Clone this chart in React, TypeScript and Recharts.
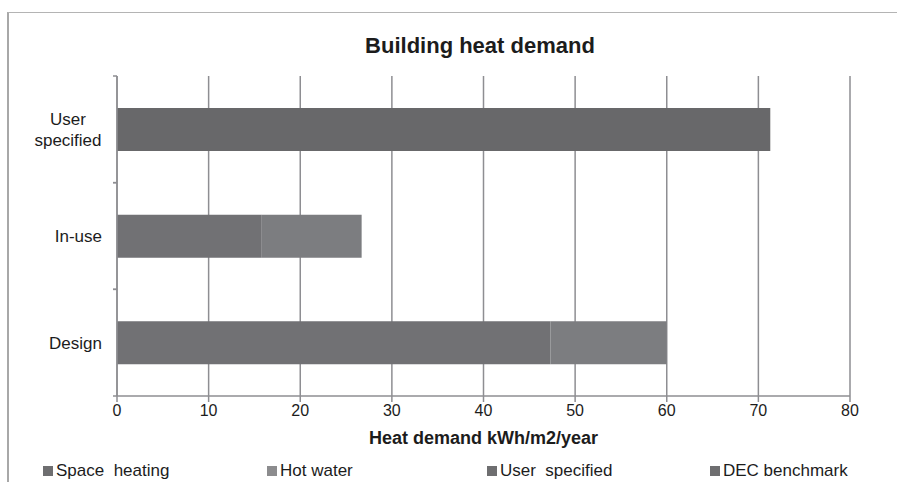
import React from 'react';
import { BarChart, Bar, XAxis, YAxis, CartesianGrid, Legend } from 'recharts';

const categories = ['User specified', 'In-use', 'Design'];
const spaceHeating = [null, 15.8, 47.3];
const hotWater = [null, 10.9, 12.7];
const userSpecified = [71.3, null, null];
const decBenchmark = [null, null, null];
const xTicks = [0, 10, 20, 30, 40, 50, 60, 70, 80];

const data = categories.map((c, i) => ({
  name: c,
  space: spaceHeating[i],
  hot: hotWater[i],
  user: userSpecified[i],
  dec: decBenchmark[i],
}));

const FONT = '"Liberation Sans", Arial, sans-serif';
const GRID = '#8e8e92';
const TEXT = '#1c1c1c';

const legendItems = [
  { label: 'Space  heating', color: '#6e6e70', x: 43 },
  { label: 'Hot water', color: '#8c8c8e', x: 267 },
  { label: 'User  specified', color: '#6e6e70', x: 487 },
  { label: 'DEC benchmark', color: '#6e6e70', x: 710 },
];

const BAND_HALF = 320 / 3 / 2;

const YTick = (props: any) => {
  const { x, y, payload } = props;
  const half = payload && payload.offset ? payload.offset : BAND_HALF;
  const axisX = x + 15;
  const words = String(payload.value).split(' ');
  const multi = payload.value === 'User specified';
  return (
    <g>
      <line x1={axisX - 4} x2={axisX} y1={y - half} y2={y - half} stroke={GRID} strokeWidth={1.5} />
      <line x1={axisX - 4} x2={axisX} y1={y + half} y2={y + half} stroke={GRID} strokeWidth={1.5} />
      {multi ? (
        <text fontFamily={FONT} fontSize={17} fill={TEXT} textAnchor="middle">
          <tspan x={x - 34} y={y - 4}>{words[0]}</tspan>
          <tspan x={x - 34} y={y + 17}>{words[1]}</tspan>
        </text>
      ) : (
        <text x={x} y={y + 6} fontFamily={FONT} fontSize={17} fill={TEXT} textAnchor="end">
          {payload.value}
        </text>
      )}
    </g>
  );
};

const renderLegend = () => (
  <div style={{ position: 'relative', width: 897, height: 18, fontFamily: FONT, fontSize: 17, color: TEXT }}>
    {legendItems.map((it) => (
      <div key={it.label} style={{ position: 'absolute', left: it.x, top: 0, display: 'flex', alignItems: 'center', whiteSpace: 'pre' }}>
        <span style={{ display: 'inline-block', width: 10, height: 10, background: it.color, marginRight: 3 }} />
        <span>{it.label}</span>
      </div>
    ))}
  </div>
);

const AxisTitle = (props: any) => {
  const vb = props.viewBox || {};
  return (
    <text x={vb.x + vb.width / 2} y={vb.y + 48} fontFamily={FONT} fontSize={18} fontWeight="bold" fill={TEXT} textAnchor="middle">
      Heat demand kWh/m2/year
    </text>
  );
};

export default function App() {
  return (
    <div style={{ position: 'absolute', left: 0, top: 0, width: 897, height: 482, overflow: 'hidden', background: '#fff' }}>
      <div style={{ position: 'absolute', left: 7, top: 12, width: 900, height: 480, borderTop: '1.5px solid #b4b4b4', borderLeft: '2px solid #a8a8a8' }} />
      <div style={{ position: 'absolute', left: 0, width: 960, top: 33, textAlign: 'center', fontFamily: FONT, fontSize: 22, fontWeight: 'bold', color: TEXT }}>
        Building heat demand
      </div>
      <div style={{ position: 'absolute', left: 0, top: 0 }}>
        <BarChart
          width={897}
          height={482}
          data={data}
          layout="vertical"
          margin={{ top: 76, right: 47, bottom: 34, left: 17 }}
          barCategoryGap="30%"
        >
          <CartesianGrid horizontal={false} vertical={true} stroke={GRID} strokeWidth={1.5} />
          <XAxis
            type="number"
            domain={[0, 80]}
            ticks={xTicks}
            height={52}
            tickSize={6}
            tickMargin={3}
            axisLine={{ stroke: GRID, strokeWidth: 1.5 }}
            tickLine={{ stroke: GRID, strokeWidth: 1.5 }}
            tick={{ fontFamily: FONT, fontSize: 16, fill: TEXT }}
            label={<AxisTitle />}
          />
          <YAxis
            type="category"
            dataKey="name"
            width={100}
            tickSize={0}
            tickMargin={15}
            tickLine={false}
            axisLine={{ stroke: GRID, strokeWidth: 1.5 }}
            tick={<YTick />}
            interval={0}
          />
          <Legend
            layout="horizontal"
            verticalAlign="middle"
            align="center"
            wrapperStyle={{ left: 0, top: 461, width: 897 }}
            content={renderLegend}
          />
          <Bar dataKey="space" name="Space heating" stackId="a" fill="#717174" isAnimationActive={false} />
          <Bar dataKey="hot" name="Hot water" stackId="a" fill="#7c7d80" isAnimationActive={false} />
          <Bar dataKey="user" name="User specified" stackId="a" fill="#68686a" isAnimationActive={false} />
          <Bar dataKey="dec" name="DEC benchmark" stackId="a" fill="#6e6e70" isAnimationActive={false} />
        </BarChart>
      </div>
    </div>
  );
}
